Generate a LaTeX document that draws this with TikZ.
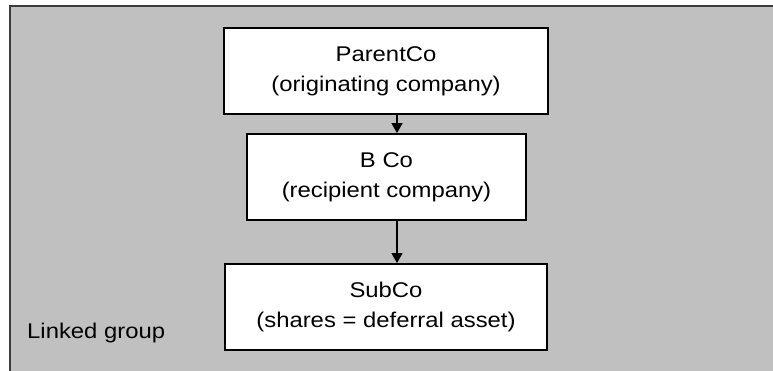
\documentclass[tikz,border=0pt]{standalone}
\usepackage{fontspec}
\setmainfont[FakeStretch=1.12]{Liberation Sans}
\usetikzlibrary{arrows.meta}
\definecolor{groupfill}{RGB}{192,192,192}
\definecolor{groupedge}{RGB}{60,60,60}
\tikzset{
  company/.style={draw=black, line width=1.8pt, fill=white, align=center,
    font=\fontsize{21.3}{30}\selectfont, inner sep=0pt},
  link/.style={line width=1.2pt, -{Triangle[length=10pt,width=11pt]}},
  grouplabel/.style={font=\fontsize{21.3}{30}\selectfont, anchor=west, inner sep=0pt}
}
\begin{document}
\begin{tikzpicture}[x=1pt,y=-1pt]
\useasboundingbox (0,0) rectangle (773,371);
\clip (0,0) rectangle (773,371);
\fill[white] (0,0) rectangle (773,371);
\draw[groupedge, line width=2pt, fill=groupfill] (10,6) rectangle (800,400);
\node[company, minimum width=324, minimum height=86] (p) at (386,71)
  {ParentCo\\(originating company)};
\node[company, minimum width=279, minimum height=86] (b) at (386.5,177)
  {B Co\\(recipient company)};
\node[company, minimum width=322, minimum height=86] (s) at (386,307)
  {SubCo\\(shares = deferral asset)};
\node[grouplabel] (g) at (27,333) {Linked group};
\draw[link] ([xshift=11]p.south) -- ([xshift=10.5]b.north);
\draw[link] ([xshift=10.5]b.south) -- ([xshift=11]s.north);
\end{tikzpicture}
\end{document}
